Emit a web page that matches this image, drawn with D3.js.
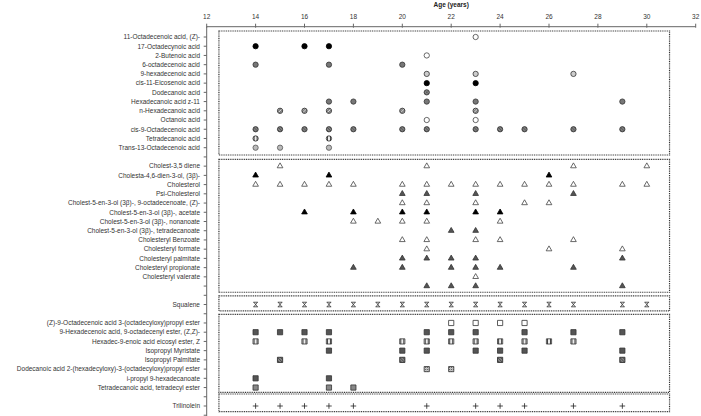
<!DOCTYPE html>
<html><head><meta charset="utf-8">
<script src="https://cdn.jsdelivr.net/npm/d3@7"></script>
<style>body{margin:0;background:#fff}svg{display:block;font-family:"Liberation Sans",Arial,sans-serif}</style>
</head><body><svg id="c" width="701" height="416"></svg>
<script>
// ---------------- DATA ----------------
const xTickValues = [12,14,16,18,20,22,24,26,28,30,32];
const axisTitle = "Age (years)";

const acidNames = ["11-Octadecenoic acid, (Z)-","17-Octadecynoic acid","2-Butenoic acid","6-octadecenoic acid","9-hexadecenoic acid","cis-11-Eicosenoic acid","Dodecanoic acid","Hexadecanoic acid z-11","n-Hexadecanoic acid","Octanoic acid","cis-9-Octadecenoic acid","Tetradecanoic acid","Trans-13-Octadecenoic acid"];
const acidAges = [[23],[14,16,17],[21],[14,17,20],[21,23,27],[21,23],[21],[17,18,21,23,29],[15,16,17,20,23],[21,23],[14,15,16,17,18,20,21,23,24,25,27,29],[14,17],[14,15,17]];

const sterolNames = ["Cholest-3,5 diene","Cholesta-4,6-dien-3-ol, (3\u03B2)-","Cholesterol","Psi-Cholesterol","Cholest-5-en-3-ol (3\u03B2)-, 9-octadecenoate, (Z)-","Cholest-5-en-3-ol (3\u03B2)-, acetate","Cholest-5-en-3-ol (3\u03B2)-, nonanoate","Cholest-5-en-3-ol (3\u03B2)-, tetradecanoate","Cholesteryl Benzoate","Cholesteryl formate","Cholesteryl palmitate","Cholesteryl propionate","Cholesteryl valerate",""];
const sterolAges = [[15,21,27,30],[14,17,26],[14,15,16,17,18,20,21,22,23,24,25,26,27,29,30],[20,21,23,27],[20,21,23,25,26],[16,18,20,21,23,24],[18,19,20,21,24],[22,23],[20,21,23,24,27],[21,26,29],[20,21,22,23,29],[18,20,22,23,24,27],[23],[21,22,23,29]];

const squaleneNames = ["Squalene"];
const squaleneAges = [[14,15,16,17,18,19,20,21,22,23,24,25,26,27,29,30]];

const esterNames = ["(Z)-9-Octadecenoic acid 3-(octadecyloxy)propyl ester","9-Hexadecenoic acid, 9-octadecenyl ester, (Z,Z)-","Hexadec-9-enoic acid eicosyl ester, Z","Isopropyl Myristate","Isopropyl Palmitate","Dodecanoic acid 2-(hexadecyloxy)-3-(octadecyloxy)propyl ester","i-propyl 9-hexadecanoate","Tetradecanoic acid, tetradecyl ester"];
const esterAges = [[22,23,24,25],[14,15,16,17,21,22,23,25,27,29],[14,16,17,20,21,22,23,24,25,26,27],[17,20,21,23,24,25,29],[15,20,24,29],[21,22],[14,17],[14,17,18]];

const glycerideNames = ["Trilinolein"];
const glycerideAges = [[14,15,16,17,18,21,23,24,25,27,29]];

// ---------------- STYLES (marker per row) ----------------
const acidMarks = ["c-open","c-black","c-open","c-gray","c-light","c-black","c-cross","c-gray","c-diag","c-open","c-diag2","c-half","c-ring"];
const sterolMarks = ["t-open","t-black","t-open","t-dark","t-open","t-black","t-open","t-dark","t-open","t-open","t-dark","t-dark","t-open","t-dark"];
const squaleneMarks = ["squal"];
const esterMarks = ["s-dot","s-dark","s-vstripe","s-dark","s-diag","s-check","s-hline","s-gray"];
const glycerideMarks = ["plus"];

// group layout: pads (in row units) of dotted boxes
const groups = [
  {names: acidNames, ages: acidAges, marks: acidMarks, padTop: 0.65, padBot: 0.79},
  {names: sterolNames, ages: sterolAges, marks: sterolMarks, padTop: 0.74, padBot: 0.67},
  {names: squaleneNames, ages: squaleneAges, marks: squaleneMarks, padTop: 0.93, padBot: 0.69},
  {names: esterNames, ages: esterAges, marks: esterMarks, padTop: 0.94, padBot: 0.52},
  {names: glycerideNames, ages: glycerideAges, marks: glycerideMarks, padTop: 1.3, padBot: 0.62}
];

// ---------------- BUILD ROWS ----------------
const rows = [];
const boxes = [];
let slot = 0;
groups.forEach((g, gi) => {
  const first = slot;
  g.names.forEach((n, i) => {
    rows.push({name: n, slot: slot, ages: g.ages[i], mark: g.marks[i]});
    slot++;
  });
  boxes.push({top: first - g.padTop, bot: slot - 1 + g.padBot});
  if (gi < groups.length - 1) slot++; // blank separator
});
const lastSlot = slot - 1;

// ---------------- SCALES ----------------
const svg = d3.select("#c");
const x = d3.scaleLinear().domain([12, 32]).range([206.7, 695.7]);
const y = d3.scaleLinear().domain([0, lastSlot]).range([37, 406]);
const axisY = 26.7;

// patterns
const defs = svg.append("defs");
function pat(id, bg, draw, size=3) {
  const p = defs.append("pattern").attr("id", id).attr("patternUnits","userSpaceOnUse").attr("width",size).attr("height",size);
  p.append("rect").attr("width",size).attr("height",size).attr("fill",bg);
  draw(p);
}
pat("pDiag", "#777", p => p.append("path").attr("d","M0,3 L3,0").attr("stroke","#fff").attr("stroke-width",0.9));
pat("pDiag2", "#888", p => p.append("path").attr("d","M0,0 L3,3").attr("stroke","#333").attr("stroke-width",0.8));
pat("pCross", "#999", p => { p.append("path").attr("d","M0,0 L3,3 M0,3 L3,0").attr("stroke","#333").attr("stroke-width",0.6); });
pat("pV", "#eee", p => p.append("path").attr("d","M1.5,0 L1.5,3").attr("stroke","#444").attr("stroke-width",1));
pat("pCheck", "#ddd", p => { p.append("rect").attr("width",1).attr("height",1).attr("fill","#333"); p.append("rect").attr("x",1.5).attr("y",1.5).attr("width",1).attr("height",1).attr("fill","#333"); }, 2);

// ---------------- AXES ----------------
svg.append("line").attr("x1", x(12)).attr("x2", x(32)).attr("y1", axisY).attr("y2", axisY).attr("stroke","#666").attr("stroke-width",1);
svg.selectAll(".xt").data(xTickValues).enter().append("line")
  .attr("x1", d => x(d)).attr("x2", d => x(d)).attr("y1", axisY-3).attr("y2", axisY+1).attr("stroke","#666");
svg.selectAll(".xl").data(xTickValues).enter().append("text")
  .attr("x", d => x(d)).attr("y", 19).attr("text-anchor","middle").attr("font-size",6.5).attr("fill","#333").text(d => d);
svg.append("text").attr("x", (x(12)+x(32))/2).attr("y", 7).attr("text-anchor","middle")
  .attr("font-size",6.5).attr("font-weight","bold").attr("fill","#222").text(axisTitle);

svg.append("line").attr("x1", x(12)).attr("x2", x(12)).attr("y1", axisY).attr("y2", 416).attr("stroke","#666");
const tickSlots = d3.range(0, lastSlot + 2);
svg.selectAll(".yt").data(tickSlots).enter().append("line")
  .attr("x1", x(12)-3).attr("x2", x(12)).attr("y1", d => y(d)).attr("y2", d => y(d)).attr("stroke","#666");
svg.selectAll(".yl").data(rows.filter(r => r.name)).enter().append("text")
  .attr("x", 200).attr("y", d => y(d.slot)).attr("dy","0.35em").attr("text-anchor","end")
  .attr("font-size",6.5).attr("fill","#333").text(d => d.name);

// dotted boxes
svg.selectAll(".box").data(boxes).enter().append("rect")
  .attr("x", x(12.5)).attr("width", x(30.93) - x(12.5))
  .attr("y", d => y(d.top)).attr("height", d => y(d.bot) - y(d.top))
  .attr("fill","none").attr("stroke","#333").attr("stroke-width",1.2).attr("stroke-dasharray","1,0.8");

// ---------------- MARKERS ----------------
const pts = [];
rows.forEach(r => r.ages.forEach(a => pts.push({age: a, slot: r.slot, mark: r.mark})));

const circ = d3.symbol().type(d3.symbolCircle).size(22)();
const tri = d3.symbol().type(d3.symbolTriangle).size(14)();
const sq = "M-2.6,-2.6H2.6V2.6H-2.6Z";
const plus = "M-2.8,0H2.8M0,-2.8V2.8";
const squal = "M-2.3,-2.3H2.3M-2.3,2.3H2.3M-1.8,-2.3L1.8,2.3M1.8,-2.3L-1.8,2.3";

const styleMap = {
  "c-open":  {d: circ, fill: "#fff", stroke: "#444"},
  "c-black": {d: circ, fill: "#000", stroke: "#000"},
  "c-gray":  {d: circ, fill: "#777", stroke: "#333"},
  "c-light": {d: circ, fill: "#ccc", stroke: "#333"},
  "c-cross": {d: circ, fill: "url(#pCross)", stroke: "#333"},
  "c-diag":  {d: circ, fill: "url(#pDiag)", stroke: "#222"},
  "c-diag2": {d: circ, fill: "url(#pDiag2)", stroke: "#333"},
  "c-half":  {d: circ, fill: "url(#pV)", stroke: "#222"},
  "c-ring":  {d: circ, fill: "#bbb", stroke: "#555"},
  "t-open":  {d: tri, fill: "#fff", stroke: "#444"},
  "t-black": {d: tri, fill: "#000", stroke: "#000"},
  "t-dark":  {d: tri, fill: "#555", stroke: "#333"},
  "s-dot":   {d: sq, fill: "#fff", stroke: "#333"},
  "s-dark":  {d: sq, fill: "#555", stroke: "#333"},
  "s-vstripe": {d: sq, fill: "url(#pV)", stroke: "#333"},
  "s-diag":  {d: sq, fill: "url(#pDiag2)", stroke: "#222"},
  "s-check": {d: sq, fill: "url(#pCheck)", stroke: "#333"},
  "s-hline": {d: sq, fill: "#555", stroke: "#333"},
  "s-gray":  {d: sq, fill: "#888", stroke: "#333"},
  "plus":    {d: plus, fill: "none", stroke: "#222"},
  "squal":   {d: squal, fill: "none", stroke: "#333"}
};

svg.append("g").selectAll("path").data(pts).enter().append("path")
  .attr("transform", d => `translate(${x(d.age)},${y(d.slot)})`)
  .attr("d", d => styleMap[d.mark].d)
  .attr("fill", d => styleMap[d.mark].fill)
  .attr("stroke", d => styleMap[d.mark].stroke)
  .attr("stroke-width", 0.8);
</script></body></html>
